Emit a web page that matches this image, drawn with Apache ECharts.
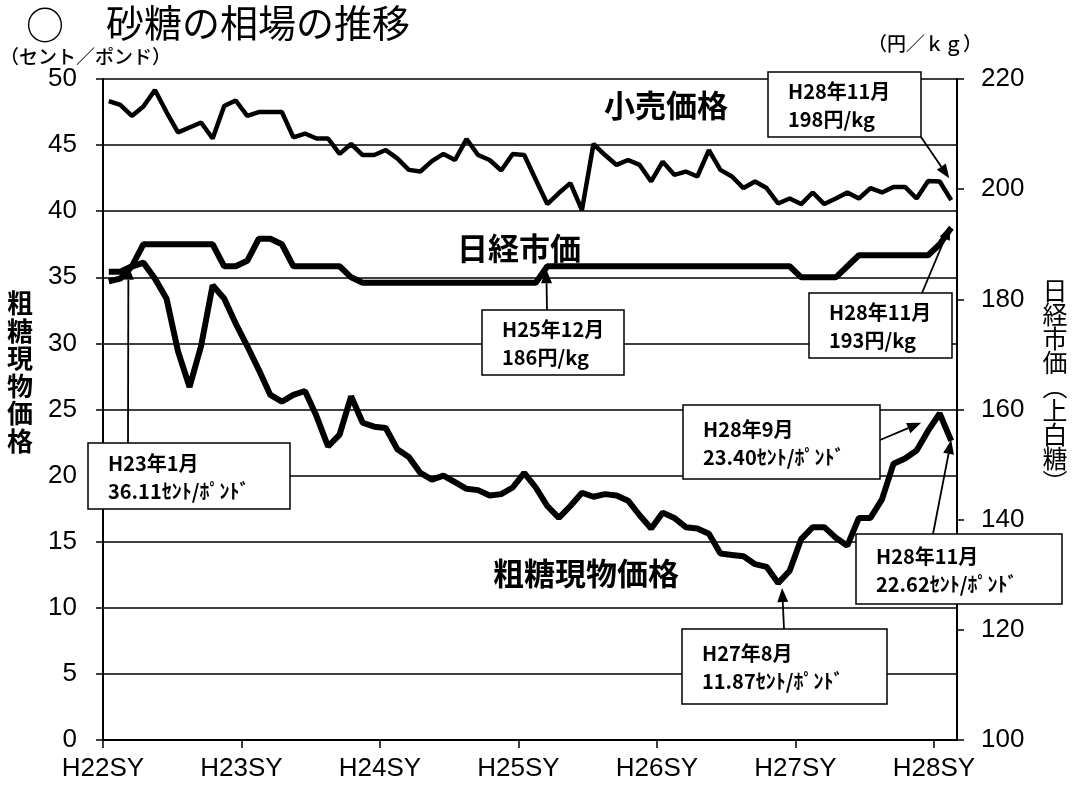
<!DOCTYPE html>
<html>
<head>
<meta charset="utf-8">
<script src="https://cdn.jsdelivr.net/npm/echarts@6/dist/echarts.min.js"></script>
<style>
  html, body { margin: 0; padding: 0; background: #fff; }
  #chart { width: 1072px; height: 786px; }
</style>
</head>
<body>
<div id="chart"></div>
<script>
// sugar years on the x axis, one tick each 12 months
const yearLabels = ["H22SY", "H23SY", "H24SY", "H25SY", "H26SY", "H27SY", "H28SY"];

// monthly categories H22年10月 .. H28年11月
const months = [];
for (let k = 0; k < 74; k++) {
  const m = 10 + k;
  months.push("H" + (22 + Math.floor((m - 1) / 12)) + "年" + (((m - 1) % 12) + 1) + "月");
}

// 小売価格 (円/kg, right axis)
const retailPrice = [
  216, 215.3, 213.3, 215, 218, 214, 210.3, 211.2, 212.1, 209.2, 215.1, 216.1,
  213.3, 214, 214, 214, 209.4, 210.1, 209.2, 209.2, 206.4, 208.2, 206.2, 206.2,
  207.1, 205.6, 203.5, 203.2, 205.1, 206.4, 205.3, 209.1, 206.2, 205.3, 203.4, 206.4,
  206.2, 201.7, 197.3, 199.3, 201.1, 196.2, 208.2, 206.2, 204.4, 205.3, 204.4, 201.4,
  205, 202.6, 203.2, 202.3, 207.1, 203.5, 202.3, 200.2, 201.4, 200.2, 197.4, 198.3,
  197.3, 199.4, 197.3, 198.3, 199.4, 198.3, 200.2, 199.4, 200.4, 200.4, 198.3, 201.5,
  201.4, 198
];

// 日経市価 上白糖 (円/kg, right axis)
const nikkeiPrice = [
  185, 185, 186, 190, 190, 190, 190, 190, 190, 190, 186, 186,
  187, 191, 191, 190, 186, 186, 186, 186, 186, 184, 183, 183,
  183, 183, 183, 183, 183, 183, 183, 183, 183, 183, 183, 183,
  183, 183, 186, 186, 186, 186, 186, 186, 186, 186, 186, 186,
  186, 186, 186, 186, 186, 186, 186, 186, 186, 186, 186, 186,
  184, 184, 184, 184, 186, 188, 188, 188, 188, 188, 188, 188,
  190, 193
];

// 粗糖現物価格 (セント/ポンド, left axis)
const rawSugar = [
  34.7, 34.9, 35.8, 36.11, 34.9, 33.4, 29.4, 26.7, 29.8, 34.4, 33.4, 31.5,
  29.8, 28.0, 26.1, 25.6, 26.1, 26.4, 24.5, 22.2, 23.1, 26.0, 24.0, 23.7,
  23.6, 22.0, 21.4, 20.2, 19.7, 20.0, 19.5, 19.0, 18.9, 18.5, 18.6, 19.1,
  20.2, 19.1, 17.7, 16.8, 17.7, 18.7, 18.4, 18.6, 18.5, 18.1, 17.0, 16.0,
  17.2, 16.8, 16.1, 16.0, 15.6, 14.1, 14.0, 13.9, 13.3, 13.1, 11.87, 12.8,
  15.2, 16.1, 16.1, 15.3, 14.7, 16.8, 16.8, 18.2, 20.9, 21.3, 21.9, 23.4,
  24.7, 22.62
];

const seriesNames = ["小売価格", "日経市価", "粗糖現物価格"];

// callouts: text, box [x, y, w, h], arrow tail, pointed series/index, tip offset
const notes = [
  { text: ["H28年11月", "198円/kg"], box: [768, 72, 153, 65], tail: [921, 137], s: 0, i: 73, dx: -2, dy: -22 },
  { text: ["H28年11月", "193円/kg"], box: [809, 293, 143, 65], tail: [922, 293], s: 1, i: 73, dx: -1, dy: -2 },
  { text: ["H25年12月", "186円/kg"], box: [482, 310, 142, 65], tail: [547, 310], s: 1, i: 38, dx: -1, dy: 3 },
  { text: ["H23年1月", "36.11ｾﾝﾄ/ﾎﾟﾝﾄﾞ"], box: [88, 443, 202, 66], tail: [128, 443], s: 2, i: 3, dx: -15, dy: 3 },
  { text: ["H28年9月", "23.40ｾﾝﾄ/ﾎﾟﾝﾄﾞ"], box: [683, 405, 197, 74], tail: [880, 440], s: 2, i: 71, dx: -7, dy: -8 },
  { text: ["H28年11月", "22.62ｾﾝﾄ/ﾎﾟﾝﾄﾞ"], box: [856, 534, 206, 70], tail: [933, 534], s: 2, i: 73, dx: 0, dy: -1 },
  { text: ["H27年8月", "11.87ｾﾝﾄ/ﾎﾟﾝﾄﾞ"], box: [682, 629, 205, 75], tail: [784, 629], s: 2, i: 58, dx: 4, dy: 5 },
];

const JP = "'Noto Sans CJK JP', sans-serif";
const NUM = "'Liberation Sans', Arial, sans-serif";

const chart = echarts.init(document.getElementById("chart"));

const axisLine = { show: true, lineStyle: { color: "#000", width: 2 } };
const axisTick = { show: true, length: 7, lineStyle: { color: "#000", width: 1.5 } };
const tickLabel = { color: "#000", fontSize: 26, fontFamily: NUM };

chart.setOption({
  animation: false,
  backgroundColor: "#fff",
  grid: { left: 103, right: 115, top: 79, bottom: 46 },
  xAxis: [
    { type: "category", data: months, boundaryGap: true, show: false },
    {
      type: "value",
      min: 0,
      max: 74,
      interval: 12,
      position: "bottom",
      axisLine,
      axisTick: { show: true, length: 8, lineStyle: { color: "#000", width: 1.5 } },
      axisLabel: {
        ...tickLabel,
        margin: 16,
        showMaxLabel: false,
        formatter: (v) => (v % 12 === 0 ? yearLabels[v / 12] || "" : ""),
      },
      splitLine: { show: false },
    },
  ],
  yAxis: [
    {
      type: "value",
      min: 0,
      max: 50,
      interval: 5,
      position: "left",
      axisLine,
      axisTick,
      axisLabel: { ...tickLabel, margin: 26 },
      splitLine: { show: true, lineStyle: { color: "#000", width: 1.5 } },
    },
    {
      type: "value",
      min: 100,
      max: 220,
      interval: 20,
      position: "right",
      axisLine,
      axisTick,
      axisLabel: { ...tickLabel, margin: 24 },
      splitLine: { show: false },
    },
  ],
  series: [
    { name: seriesNames[0], type: "line", yAxisIndex: 1, data: retailPrice, symbol: "none", lineStyle: { color: "#000", width: 4.5 }, z: 3 },
    { name: seriesNames[1], type: "line", yAxisIndex: 1, data: nikkeiPrice, symbol: "none", lineStyle: { color: "#000", width: 6 }, z: 3 },
    { name: seriesNames[2], type: "line", yAxisIndex: 0, data: rawSugar, symbol: "none", lineStyle: { color: "#000", width: 6 }, z: 3 },
  ],
});

function text(x, y, str, size, opts) {
  return {
    type: "text",
    x,
    y,
    z: 120,
    style: Object.assign({ text: str, fill: "#000", fontSize: size, fontFamily: JP, align: "left", verticalAlign: "middle" }, opts || {}),
  };
}

function arrow(tail, tip) {
  const [x1, y1] = tail;
  const [x2, y2] = tip;
  const a = Math.atan2(y2 - y1, x2 - x1);
  const L = 14, W = 5.5;
  const bx = x2 - L * Math.cos(a), by = y2 - L * Math.sin(a);
  const px = -Math.sin(a) * W, py = Math.cos(a) * W;
  return [
    { type: "line", z: 110, shape: { x1, y1, x2: bx, y2: by }, style: { stroke: "#000", lineWidth: 1.8 } },
    { type: "polygon", z: 110, shape: { points: [[x2, y2], [bx + px, by + py], [bx - px, by - py]] }, style: { fill: "#000" } },
  ];
}

const seriesData = [retailPrice, nikkeiPrice, rawSugar];
const graphic = [
  text(26, 25, "○", 38),
  text(106, 23, "砂糖の相場の推移", 38),
  text(0, 57, "（セント／ポンド）", 19, { fontWeight: 500 }),
  text(868, 44, "（円／ｋｇ）", 19, { fontWeight: 500 }),
  text(20, 372, "粗\n糖\n現\n物\n価\n格", 26, { align: "center", fontWeight: "bold", lineHeight: 27.5 }),
  text(1055, 386, "日\n経\n市\n価\n︵\n上\n白\n糖\n︶", 25, { align: "center", lineHeight: 24 }),
  text(666, 105, seriesNames[0], 31, { align: "center", fontWeight: "bold" }),
  text(519, 248, seriesNames[1], 31, { align: "center", fontWeight: "bold" }),
  text(586, 573, seriesNames[2], 31, { align: "center", fontWeight: "bold" }),
];

notes.forEach((n) => {
  const [bx, by, bw, bh] = n.box;
  graphic.push({ type: "rect", z: 100, shape: { x: bx, y: by, width: bw, height: bh }, style: { fill: "#fff", stroke: "#000", lineWidth: 1.5 } });
  graphic.push(text(bx + 20, by + bh / 2 + 1, n.text.join("\n"), 20, { lineHeight: 28, fontWeight: "bold" }));
  const p = chart.convertToPixel({ seriesIndex: n.s }, [n.i, seriesData[n.s][n.i]]);
  graphic.push(...arrow(n.tail, [p[0] + n.dx, p[1] + n.dy]));
});

chart.setOption({ graphic });
</script>
</body>
</html>
